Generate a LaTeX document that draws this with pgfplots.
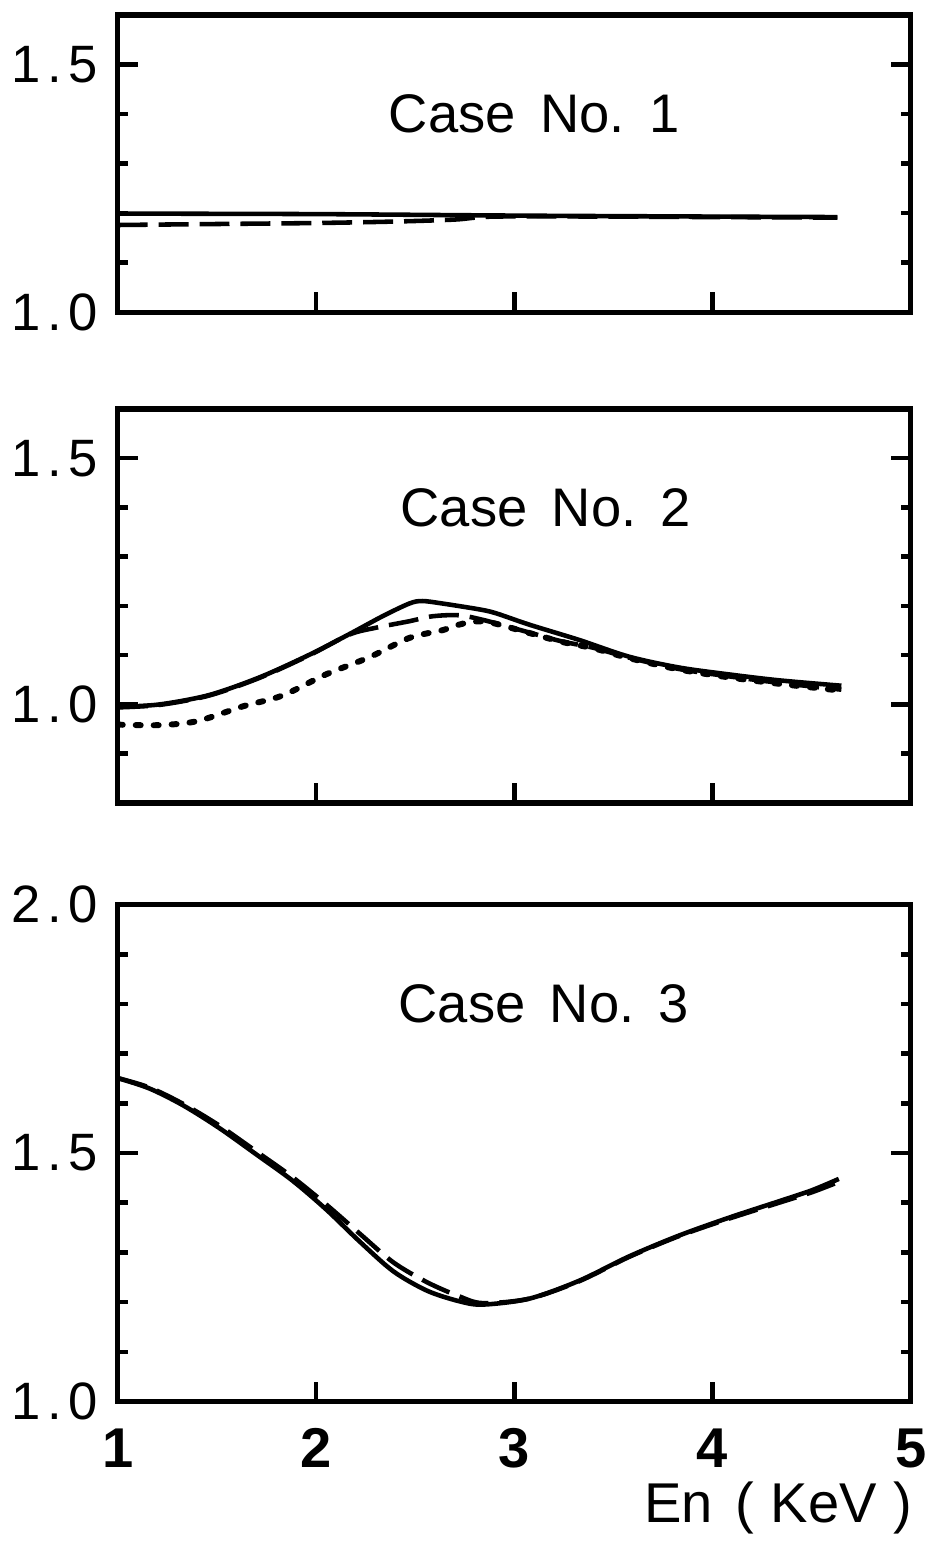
\documentclass[border=0pt]{standalone}
\usepackage{fontspec}
\setmainfont{Liberation Sans}
\usepackage{pgfplots}
\pgfplotsset{compat=1.18}

\newcommand{\tl}[2]{#1\kern1.8pt.\kern1.8pt#2}

\pgfplotsset{
  panel/.style={
    scale only axis, width=7.95cm,
    xmin=1, xmax=5,
    xtick={2,3,4}, xticklabels={},
    xtick pos=bottom, ytick pos=both,
    tick align=inside,
    axis line style={line width=1.5pt},
    major tick style={line width=1.3pt, black},
    minor tick style={line width=1.3pt, black},
    major tick length=0.2cm, minor tick length=0.1cm,
    tick label style={font=\fontsize{15}{17}\selectfont},
    yticklabel style={xshift=-0.08cm},
    /pgf/number format/assume math mode=true,
  },
  solidc/.style={line width=1.3pt, black, smooth},
  dashc/.style={line width=1.3pt, black, smooth, dash pattern=on 3mm off 1.1mm},
  dotc/.style={line width=1.7pt, black, smooth, line cap=round, dash pattern=on 0.5mm off 1.3mm},
}
\tikzset{casefont/.style={font=\fontsize{15.5}{18}\selectfont}}

\begin{document}
\begin{tikzpicture}
\path (0,0) rectangle (9.32,-15.46);

%% Case No. 1
\begin{axis}[panel, at={(1.16cm,-0.15cm)}, anchor=north west,
  height=2.98cm, ymin=1.0, ymax=1.6,
  ytick={1.0,1.5}, yticklabels={\tl{1}{0},\tl{1}{5}},
  minor ytick={1.1,1.2,1.3,1.4}]
\addplot[solidc] coordinates {
  (1,1.199)(2,1.198)(3,1.195)(4,1.193)(4.63,1.192)};
\addplot[dashc] coordinates {
  (1,1.176)(1.5,1.178)(2,1.180)(2.4,1.183)(2.7,1.187)(2.9,1.193)
  (3.5,1.193)(4,1.192)(4.63,1.191)};
\node[casefont] at (axis cs:3.1,1.40) {Case\hspace{0.45em}No.\hspace{0.45em}1};
\end{axis}

%% Case No. 2
\begin{axis}[panel, at={(1.16cm,-4.10cm)}, anchor=north west,
  height=3.95cm, ymin=0.8, ymax=1.6,
  ytick={1.0,1.5}, yticklabels={\tl{1}{0},\tl{1}{5}},
  minor ytick={0.9,1.1,1.2,1.3,1.4}]
\addplot[solidc] coordinates {
  (1.0,0.995)(1.21,1.0)(1.46,1.019)(1.715,1.055)(1.967,1.101)(2.169,1.143)
  (2.335,1.179)(2.471,1.205)(2.536,1.21)(2.637,1.205)(2.824,1.193)(2.909,1.185)
  (3.076,1.162)(3.327,1.131)(3.579,1.097)(3.831,1.075)(4.083,1.061)(4.335,1.049)
  (4.65,1.038)};
\addplot[dashc] coordinates {
  (1.0,0.994)(1.21,0.999)(1.46,1.018)(1.715,1.054)(1.967,1.1)(2.169,1.142)
  (2.305,1.156)(2.471,1.169)(2.587,1.179)(2.723,1.181)(2.859,1.17)(3.076,1.146)
  (3.24,1.128)(3.4,1.115)(3.579,1.095)(3.831,1.072)(4.083,1.057)(4.335,1.044)
  (4.65,1.030)};
\addplot[dotc] coordinates {
  (1.0,0.959)(1.21,0.958)(1.40,0.966)(1.63,0.996)(1.83,1.018)(2.05,1.061)
  (2.27,1.096)(2.47,1.135)(2.64,1.151)(2.74,1.164)(2.859,1.168)(3.076,1.145)
  (3.24,1.127)(3.4,1.114)(3.579,1.094)(3.831,1.071)(4.083,1.055)(4.335,1.042)
  (4.65,1.028)};
\node[casefont] at (axis cs:3.16,1.40) {Case\hspace{0.45em}No.\hspace{0.45em}2};
\end{axis}

%% Case No. 3
\begin{axis}[panel, at={(1.16cm,-9.07cm)}, anchor=north west,
  height=4.98cm, ymin=1.0, ymax=2.0,
  xtick={1,2,3,4,5}, xticklabels={1,2,3,4,5},
  xticklabel style={font=\fontsize{16}{18}\selectfont\bfseries, yshift=-0.15cm},
  ytick={1.0,1.5,2.0}, yticklabels={\tl{1}{0},\tl{1}{5},\tl{2}{0}},
  minor ytick={1.1,1.2,1.3,1.4,1.6,1.7,1.8,1.9}]
\addplot[solidc] coordinates {
  (1.0,1.651)(1.16,1.630)(1.33,1.596)(1.51,1.551)(1.70,1.497)(1.88,1.445)
  (2.05,1.387)(2.22,1.322)(2.39,1.262)(2.56,1.223)(2.72,1.202)(2.84,1.195)
  (3.076,1.207)(3.327,1.243)(3.579,1.292)(3.831,1.334)(4.083,1.37)(4.335,1.403)
  (4.50,1.425)(4.637,1.448)};
\addplot[dashc] coordinates {
  (1.0,1.651)(1.16,1.632)(1.33,1.599)(1.51,1.556)(1.70,1.503)(1.88,1.452)
  (2.05,1.397)(2.22,1.338)(2.39,1.280)(2.56,1.240)(2.72,1.212)(2.84,1.198)
  (3.076,1.207)(3.327,1.242)(3.579,1.291)(3.831,1.333)(4.083,1.368)(4.335,1.400)
  (4.50,1.421)(4.637,1.442)};
\node[casefont] at (axis cs:3.15,1.80) {Case\hspace{0.45em}No.\hspace{0.45em}3};
\end{axis}

\node[anchor=east, font=\fontsize{16}{18}\selectfont] at (9.25,-15.12) {En\hspace{0.4em}(\hspace{0.3em}KeV\hspace{0.3em})};
\end{tikzpicture}
\end{document}
